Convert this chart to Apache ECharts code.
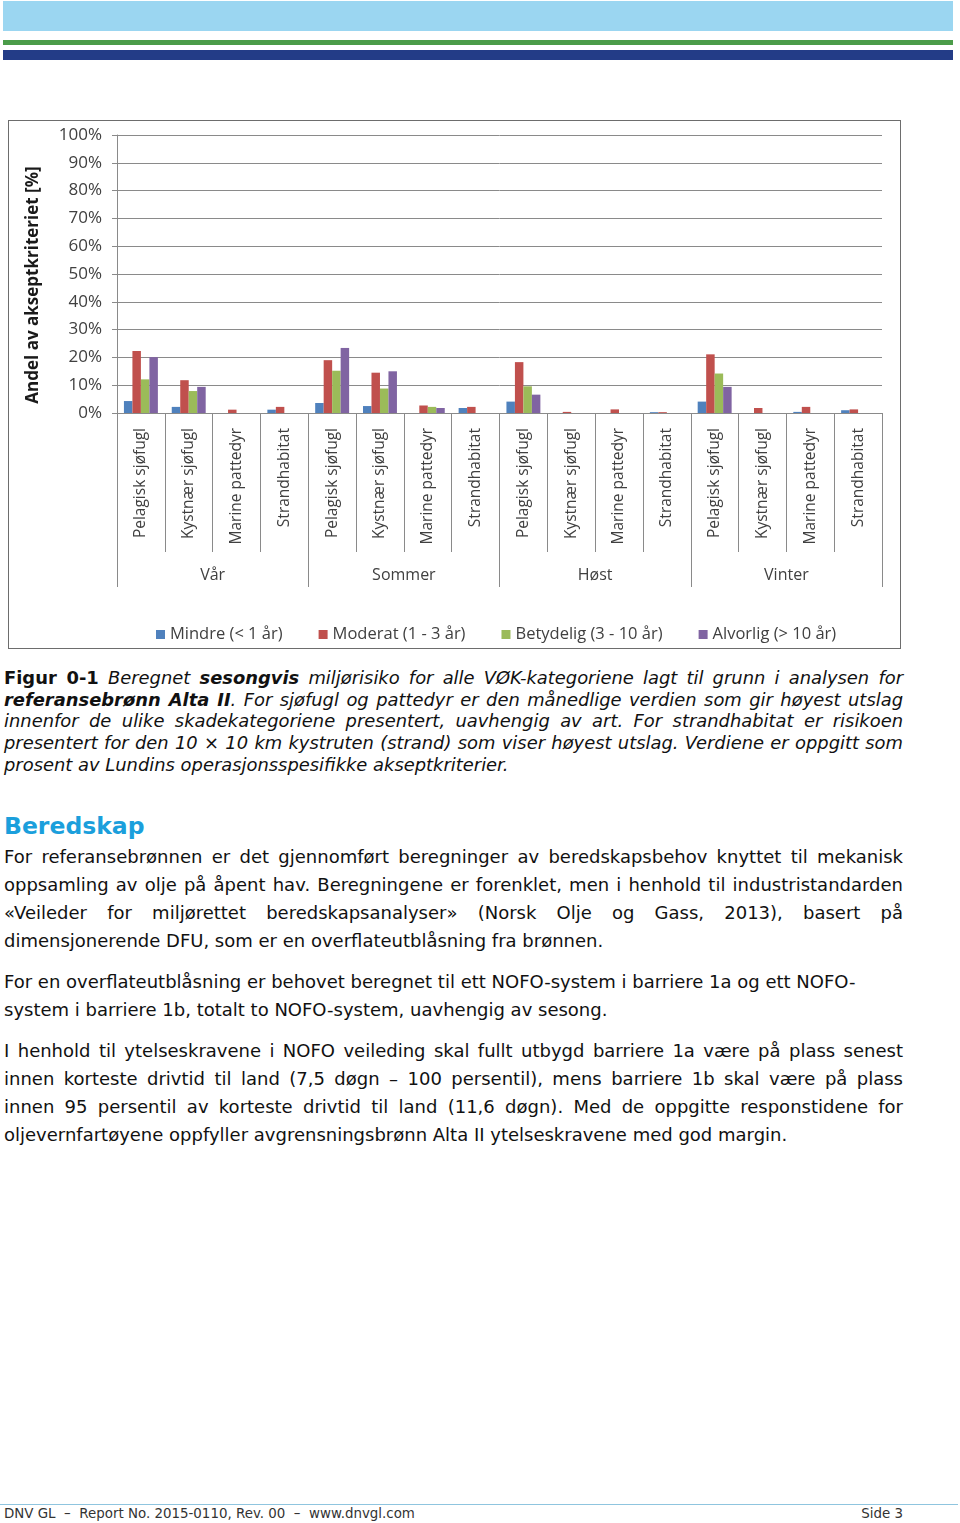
<!DOCTYPE html>
<html>
<head>
<meta charset="utf-8">
<script src="https://cdn.jsdelivr.net/npm/echarts@6/dist/echarts.min.js"></script>
<style>
  body { margin:0; width:960px; height:1523px; background:#fff; position:relative; overflow:hidden;
         font-family:"DejaVu Sans", Verdana, sans-serif; color:#111; }
  .bar { position:absolute; left:3px; width:950px; }
  #frame { position:absolute; left:8px; top:120px; width:891px; height:527px; border:1px solid #6d6d6d; }
  #chart { width:891px; height:527px; }
  .ln { position:absolute; left:4px; width:899px; white-space:normal; }
  .j { text-align:justify; text-align-last:justify; }
  .cap { font-size:17.9px; font-style:italic; height:22px; line-height:22px; }
  .cap b.n { font-style:normal; }
  .txt { font-size:18px; height:28px; line-height:28px; }
  h2 { position:absolute; left:4px; top:810px; margin:0; font-size:23.5px; line-height:32px; color:#1b9fdc; }
  #foot { position:absolute; left:4px; top:1505px; width:899px; font-size:13.4px; line-height:17px; color:#333; }
</style>
</head>
<body>
<div class="bar" style="top:1px;height:30px;background:#9bd6f1"></div>
<div class="bar" style="top:40px;height:5px;background:#4b9c49"></div>
<div class="bar" style="top:50px;height:10px;background:#233c87"></div>

<div id="frame"><div id="chart"></div></div>

<div class="ln cap j" style="top:667px"><b class="n">Figur 0-1</b> Beregnet <b>sesongvis</b> miljørisiko for alle VØK-kategoriene lagt til grunn i analysen for</div>
<div class="ln cap j" style="top:689px"><b>referansebrønn Alta II</b>. For sjøfugl og pattedyr er den månedlige verdien som gir høyest utslag</div>
<div class="ln cap j" style="top:710px">innenfor de ulike skadekategoriene presentert, uavhengig av art. For strandhabitat er risikoen</div>
<div class="ln cap j" style="top:732px">presentert for den 10 × 10 km kystruten (strand) som viser høyest utslag. Verdiene er oppgitt som</div>
<div class="ln cap" style="top:754px">prosent av Lundins operasjonsspesifikke akseptkriterier.</div>

<h2>Beredskap</h2>

<div class="ln txt j" style="top:843px">For referansebrønnen er det gjennomført beregninger av beredskapsbehov knyttet til mekanisk</div>
<div class="ln txt j" style="top:871px">oppsamling av olje på åpent hav. Beregningene er forenklet, men i henhold til industristandarden</div>
<div class="ln txt j" style="top:899px">«Veileder for miljørettet beredskapsanalyser» (Norsk Olje og Gass, 2013), basert på</div>
<div class="ln txt" style="top:927px">dimensjonerende DFU, som er en overflateutblåsning fra brønnen.</div>

<div class="ln txt" style="top:968px">For en overflateutblåsning er behovet beregnet til ett NOFO-system i barriere 1a og ett NOFO-</div>
<div class="ln txt" style="top:996px">system i barriere 1b, totalt to NOFO-system, uavhengig av sesong.</div>

<div class="ln txt j" style="top:1037px">I henhold til ytelseskravene i NOFO veileding skal fullt utbygd barriere 1a være på plass senest</div>
<div class="ln txt j" style="top:1065px">innen korteste drivtid til land (7,5 døgn – 100 persentil), mens barriere 1b skal være på plass</div>
<div class="ln txt j" style="top:1093px">innen 95 persentil av korteste drivtid til land (11,6 døgn). Med de oppgitte responstidene for</div>
<div class="ln txt" style="top:1121px">oljevernfartøyene oppfyller avgrensningsbrønn Alta II ytelseskravene med god margin.</div>

<div style="position:absolute;left:0;top:1504px;width:958px;height:1px;background:#8fc5df"></div>
<div id="foot"><span>DNV GL &nbsp;–&nbsp; Report No. 2015-0110, Rev. 00 &nbsp;–&nbsp; www.dnvgl.com</span><span style="float:right">Side 3</span></div>

<script>
// kategorier (VØK) per sesong
var categories = ['Pelagisk sjøfugl','Kystnær sjøfugl','Marine pattedyr','Strandhabitat',
                  'Pelagisk sjøfugl','Kystnær sjøfugl','Marine pattedyr','Strandhabitat',
                  'Pelagisk sjøfugl','Kystnær sjøfugl','Marine pattedyr','Strandhabitat',
                  'Pelagisk sjøfugl','Kystnær sjøfugl','Marine pattedyr','Strandhabitat'];
var seasons = ['Vår','Sommer','Høst','Vinter'];
var seriesNames = ['Mindre (< 1 år)','Moderat (1 - 3 år)','Betydelig (3 - 10 år)','Alvorlig (> 10 år)'];
// verdier i % av akseptkriteriet
var mindre    = [4.3, 2.2, 0,   1.2, 3.6, 2.5, 0,   1.8, 4.1, 0,   0,   0.3, 4.1, 0,   0.4, 1.0];
var moderat   = [22.3,11.8, 1.2, 2.2, 19.0,14.5, 2.7, 2.2, 18.3,0.4, 1.3, 0.3, 21.1,1.8, 2.2, 1.3];
var betydelig = [12.1,7.9, 0,   0,   15.2,8.8, 2.2, 0,   9.6, 0,   0,   0,   14.2,0,   0,   0];
var alvorlig  = [20.1,9.4, 0,   0,   23.4,15.0,1.8, 0,   6.6, 0,   0,   0,   9.4, 0,   0,   0];
var colors = ['#4f81bd','#c0504d','#9bbb59','#8064a2'];

var chart = echarts.init(document.getElementById('chart'));
var font = '"Open Sans", sans-serif';
var gridColor = '#8a8a8a';
var allData = [mindre, moderat, betydelig, alvorlig];
var series = [];
allData.forEach(function (d, i) {
    series.push({
        name: seriesNames[i],
        type: 'bar',
        barGap: 0,
        barCategoryGap: '29%',
        itemStyle: { color: colors[i] },
        data: d.map(function (v) { return v / 100; })
    });
});

chart.setOption({
    animation: false,
    color: colors,
    grid: { left: 108, right: 18, top: 14, bottom: 235 },
    legend: {
        top: 500, left: 142,
        icon: 'rect', itemWidth: 9, itemHeight: 9, itemGap: 36,
        textStyle: { fontFamily: font, fontSize: 16.5, color: '#404040' },
        data: seriesNames
    },
    xAxis: [{
        type: 'category',
        data: categories,
        axisLine: { show: true, lineStyle: { color: gridColor } },
        axisTick: { show: true, interval: 0, length: 139, lineStyle: { color: gridColor } },
        axisLabel: { interval: 0, rotate: 90, margin: 15, fontFamily: font, fontSize: 15.5, color: '#404040' }
    }, {
        type: 'category',
        position: 'bottom',
        data: seasons,
        axisLine: { show: false },
        axisTick: { show: true, interval: 0, length: 174, lineStyle: { color: gridColor } },
        axisLabel: { interval: 0, margin: 154, fontFamily: font, fontSize: 16, color: '#404040' }
    }],
    yAxis: {
        type: 'value',
        min: 0, max: 1, interval: 0.1,
        name: 'Andel av akseptkriteriet [%]',
        nameLocation: 'middle',
        nameGap: 75,
        nameTextStyle: { fontFamily: font, fontSize: 17, fontWeight: 'bold', color: '#1a1a1a', padding: [0, 22, 0, 0] },
        axisLine: { show: true, lineStyle: { color: gridColor } },
        axisTick: { show: true, length: 5, lineStyle: { color: gridColor } },
        splitLine: { lineStyle: { color: gridColor } },
        axisLabel: {
            margin: 15, fontFamily: font, fontSize: 17, color: '#404040',
            formatter: function (v) { return Math.round(v * 100) + '%'; }
        }
    },
    series: series
});
</script>
</body>
</html>
